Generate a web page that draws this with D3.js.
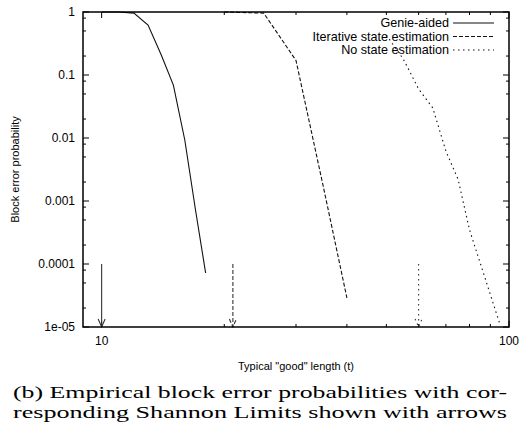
<!DOCTYPE html>
<html>
<head>
<meta charset="utf-8">
<script src="https://d3js.org/d3.v7.min.js"></script>
<style>
  body { margin: 0; background: #fff; }
  svg { display: block; }
</style>
</head>
<body>
<svg></svg>
<script>
// canvas size and margins
const width = 520;
const height = 427;
const margin = { top: 12, right: 11, bottom: 100, left: 83 };

// data: typical "good" length (t) vs block error probability
const genieT = [10, 11, 12, 13, 14, 15, 16, 17, 18];
const genieP = [1, 1, 0.96, 0.62, 0.21, 0.069, 0.0093, 0.00072, 0.000072];

const iterT = [20, 25, 30, 35, 40];
const iterP = [1, 0.96, 0.17, 0.0017, 0.000029];

const noneT = [50, 55, 60, 65, 70, 75, 80, 95];
const noneP = [0.43, 0.18, 0.06, 0.03, 0.0062, 0.0022, 0.00035, 0.000011];

// Shannon limits (arrows)
const limitT = [10, 21, 60];
const limitTop = 1e-4;

const seriesNames = ["Genie-aided", "Iterative state estimation", "No state estimation"];
const dashes = [null, "4,2", "1.5,3.5"];

const yTickValues = [1, 0.1, 0.01, 0.001, 0.0001, 0.00001];
const yTickLabels = ["1", "0.1", "0.01", "0.001", "0.0001", "1e-05"];
const xTickValues = [10, 100];
const xTickLabels = ["10", "100"];

const series = [
  genieT.map((t, i) => ({ t, p: genieP[i] })),
  iterT.map((t, i) => ({ t, p: iterP[i] })),
  noneT.map((t, i) => ({ t, p: noneP[i] }))
];

const svg = d3.select("svg")
  .attr("width", width)
  .attr("height", height);

const x = d3.scaleLog()
  .domain([9, 100])
  .range([margin.left, width - margin.right]);

const y = d3.scaleLog()
  .domain([1e-5, 1])
  .range([height - margin.bottom, margin.top]);

const x0 = margin.left, x1 = width - margin.right;
const y0 = height - margin.bottom, y1 = margin.top;
const font = "'Liberation Sans', Arial, sans-serif";

// minor ticks: 2, 5, 8 per decade on y; 20..90 on x
const yMinor = [];
[1e-5, 1e-4, 1e-3, 1e-2, 1e-1].forEach(d => [2, 5, 8].forEach(m => yMinor.push(d * m)));
const xMinor = d3.range(20, 100, 10);

const ticks = svg.append("g").attr("stroke", "#000").attr("stroke-width", 1);

ticks.selectAll("line.ymaj")
  .data(yTickValues)
  .enter().append("line")
  .attr("x1", x0).attr("x2", x0 + 6)
  .attr("y1", d => y(d)).attr("y2", d => y(d));
ticks.selectAll("line.ymajr")
  .data(yTickValues)
  .enter().append("line")
  .attr("x1", x1).attr("x2", x1 - 6)
  .attr("y1", d => y(d)).attr("y2", d => y(d));
ticks.selectAll("line.ymin")
  .data(yMinor)
  .enter().append("line")
  .attr("x1", x0).attr("x2", x0 + 3)
  .attr("y1", d => y(d)).attr("y2", d => y(d));
ticks.selectAll("line.yminr")
  .data(yMinor)
  .enter().append("line")
  .attr("x1", x1).attr("x2", x1 - 3)
  .attr("y1", d => y(d)).attr("y2", d => y(d));

ticks.selectAll("line.xmaj")
  .data(xTickValues)
  .enter().append("line")
  .attr("x1", d => x(d)).attr("x2", d => x(d))
  .attr("y1", y0).attr("y2", y0 - 6);
ticks.selectAll("line.xmajt")
  .data(xTickValues)
  .enter().append("line")
  .attr("x1", d => x(d)).attr("x2", d => x(d))
  .attr("y1", y1).attr("y2", y1 + 6);
ticks.selectAll("line.xmin")
  .data(xMinor)
  .enter().append("line")
  .attr("x1", d => x(d)).attr("x2", d => x(d))
  .attr("y1", y0).attr("y2", y0 - 3);
ticks.selectAll("line.xmint")
  .data(xMinor)
  .enter().append("line")
  .attr("x1", d => x(d)).attr("x2", d => x(d))
  .attr("y1", y1).attr("y2", y1 + 3);

// tick labels
svg.append("g").selectAll("text")
  .data(yTickValues)
  .enter().append("text")
  .attr("x", x0 - 8)
  .attr("y", d => y(d))
  .attr("dy", "0.35em")
  .attr("text-anchor", "end")
  .style("font", `12px ${font}`)
  .text((d, i) => yTickLabels[i]);

svg.append("g").selectAll("text")
  .data(xTickValues)
  .enter().append("text")
  .attr("x", d => x(d))
  .attr("y", y0 + 18)
  .attr("text-anchor", "middle")
  .style("font", `12px ${font}`)
  .text((d, i) => xTickLabels[i]);

// axis titles
svg.append("text")
  .attr("x", (x0 + x1) / 2)
  .attr("y", y0 + 43)
  .attr("text-anchor", "middle")
  .style("font", `11px ${font}`)
  .text('Typical "good" length (t)');

svg.append("text")
  .attr("transform", `translate(19, ${(y0 + y1) / 2}) rotate(-90)`)
  .attr("text-anchor", "middle")
  .style("font", `11px ${font}`)
  .text("Block error probability");

// curves
const line = d3.line()
  .x(d => x(d.t))
  .y(d => y(d.p));

svg.append("g").selectAll("path")
  .data(series)
  .enter().append("path")
  .attr("d", line)
  .attr("fill", "none")
  .attr("stroke", "#111")
  .attr("stroke-width", 1.1)
  .attr("stroke-dasharray", (d, i) => dashes[i]);

// Shannon limit arrows
const arrows = svg.append("g")
  .attr("fill", "none")
  .attr("stroke", "#333")
  .attr("stroke-width", 1.1);

limitT.forEach((t, i) => {
  const ax = x(t), top = y(limitTop);
  arrows.append("line")
    .attr("x1", ax).attr("x2", ax)
    .attr("y1", top).attr("y2", y0)
    .attr("stroke-dasharray", dashes[i]);
  arrows.append("path")
    .attr("d", `M${ax - 3.5},${y0 - 8}L${ax},${y0}L${ax + 3.5},${y0 - 8}`)
    .attr("stroke-dasharray", dashes[i]);
});

// frame
svg.append("rect")
  .attr("x", x0).attr("y", y1)
  .attr("width", x1 - x0).attr("height", y0 - y1)
  .attr("fill", "none")
  .attr("stroke", "#000")
  .attr("stroke-width", 1.5);

// legend
const legend = svg.append("g");
seriesNames.forEach((name, i) => {
  const ly = 23 + i * 13.5;
  legend.append("text")
    .attr("x", 449)
    .attr("y", ly)
    .attr("dy", "0.35em")
    .attr("text-anchor", "end")
    .style("font", `12.6px ${font}`)
    .text(name);
  legend.append("line")
    .attr("x1", 453).attr("x2", 494)
    .attr("y1", ly).attr("y2", ly)
    .attr("stroke", "#111")
    .attr("stroke-width", 1.1)
    .attr("stroke-dasharray", dashes[i]);
});

// caption
const caption = [
  "(b) Empirical block error probabilities with cor-",
  "responding Shannon Limits shown with arrows"
];
svg.append("g").selectAll("text")
  .data(caption)
  .enter().append("text")
  .attr("x", 13)
  .attr("y", (d, i) => 398 + i * 20)
  .attr("textLength", 494)
  .attr("lengthAdjust", "spacingAndGlyphs")
  .style("font", "17.5px 'Liberation Serif', 'DejaVu Serif', serif")
  .text(d => d);
</script>
</body>
</html>
